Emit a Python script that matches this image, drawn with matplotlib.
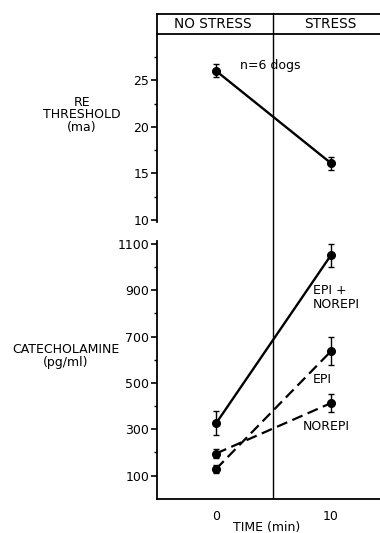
import matplotlib
matplotlib.use("Agg")
import matplotlib.pyplot as plt
from matplotlib.patches import ConnectionPatch

# ---- data ----
times = [0, 10]
re_threshold = [26.0, 16.1]
re_err = [0.7, 0.7]
epi_norepi = [325, 1052]
epi_norepi_err = [52, 50]
epi = [128, 637]
epi_err = [18, 60]
norepi = [195, 413]
norepi_err = [20, 38]
top_ticks = [10, 15, 20, 25]
bot_ticks = [100, 300, 500, 700, 900, 1100]
x_ticks = [0, 10]

W, H = 380, 533
fig = plt.figure(figsize=(W / 100, H / 100), dpi=100)
plt.rcParams['font.family'] = ['DejaVu Sans']
FS = 9

def fx(px):
    return px / W

def fy(py):
    return 1 - py / H

xl = (-5.13, 14.26)
left_px = 157
aw = 1 - fx(left_px)

# header axes
ax_h = fig.add_axes([fx(left_px), fy(34), aw, (34 - 13.5) / H])
ax_h.set_xlim(xl)
ax_h.set_ylim(0, 1)
ax_h.set_xticks([]); ax_h.set_yticks([])
ax_h.spines['right'].set_visible(False)
for s in ['top', 'bottom', 'left']:
    ax_h.spines[s].set_linewidth(1.3)
ax_h.patch.set_alpha(0)
ax_h.text(-0.25, 0.5, "NO STRESS", ha='center', va='center', fontsize=9.8)
ax_h.text(9.9, 0.5, "STRESS", ha='center', va='center', fontsize=9.8)

# top axes
ax_t = fig.add_axes([fx(left_px), fy(222), aw, (222 - 34) / H])
ax_t.set_xlim(xl)
ax_t.set_ylim(9.8, 29.95)
ax_t.errorbar(times, re_threshold, yerr=re_err, color='black', lw=1.7,
              marker='o', ms=5.5, capsize=2.3, elinewidth=1.0, capthick=1.0)
ax_t.set_yticks(top_ticks)
ax_t.set_yticks([12.5, 17.5, 22.5, 27.5], minor=True)
ax_t.set_xticks([])
for s in ['top', 'right', 'bottom']:
    ax_t.spines[s].set_visible(False)
ax_t.spines['left'].set_linewidth(1.3)
ax_t.tick_params(axis='y', which='major', length=4, width=1.2, pad=1.5, labelsize=FS)
ax_t.tick_params(axis='y', which='minor', length=2.5, width=1.0)
ax_t.patch.set_alpha(0)
ax_t.text(2.1, 26.6, "n=6 dogs", ha='left', va='center', fontsize=FS)

# bottom axes
ax_b = fig.add_axes([fx(left_px), fy(498.7), aw, (498.7 - 241) / H])
ax_b.set_xlim(xl)
ax_b.set_ylim(0, 1113)
kw = dict(color='black', marker='o', ms=5.5, capsize=2.3, elinewidth=1.0, capthick=1.0)
ax_b.errorbar(times, epi_norepi, yerr=epi_norepi_err, lw=1.7, **kw)
ax_b.errorbar(times, epi, yerr=epi_err, lw=1.6, ls=(0, (5, 2.5)), **kw)
ax_b.errorbar(times, norepi, yerr=norepi_err, lw=1.6, ls=(0, (5, 2.5)), **kw)
ax_b.set_yticks(bot_ticks)
ax_b.set_yticks([200, 400, 600, 800, 1000], minor=True)
ax_b.set_xticks(x_ticks)
for s in ['top', 'right']:
    ax_b.spines[s].set_visible(False)
ax_b.spines['left'].set_linewidth(1.3)
ax_b.spines['bottom'].set_linewidth(1.3)
ax_b.tick_params(axis='y', which='major', length=4, width=1.2, pad=1.5, labelsize=FS)
ax_b.tick_params(axis='y', which='minor', length=2.5, width=1.0)
ax_b.tick_params(axis='x', length=0, pad=8, labelsize=FS)
ax_b.patch.set_alpha(0)
ax_b.text(8.4, 870, "EPI +\nNOREPI", ha='left', va='center', fontsize=FS, linespacing=1.05)
ax_b.text(8.4, 515, "EPI", ha='left', va='center', fontsize=FS)
ax_b.text(7.5, 310, "NOREPI", ha='left', va='center', fontsize=FS)

# divider line at t=5 spanning header to bottom axis
con = ConnectionPatch(xyA=(5, 0), coordsA=ax_b.transData,
                      xyB=(5, 1), coordsB=ax_h.get_xaxis_transform(),
                      color='black', lw=1.0)
fig.add_artist(con)

# axis labels
fig.text(fx(82), fy(115), "RE\nTHRESHOLD\n(ma)", ha='center', va='center',
         fontsize=FS, linespacing=0.95)
fig.text(fx(66), fy(356), "CATECHOLAMINE\n(pg/ml)", ha='center', va='center',
         fontsize=FS, linespacing=1.0)
fig.text(fx(267), fy(527), "TIME (min)", ha='center', va='center', fontsize=FS)

fig.savefig("out.png", dpi=100)
